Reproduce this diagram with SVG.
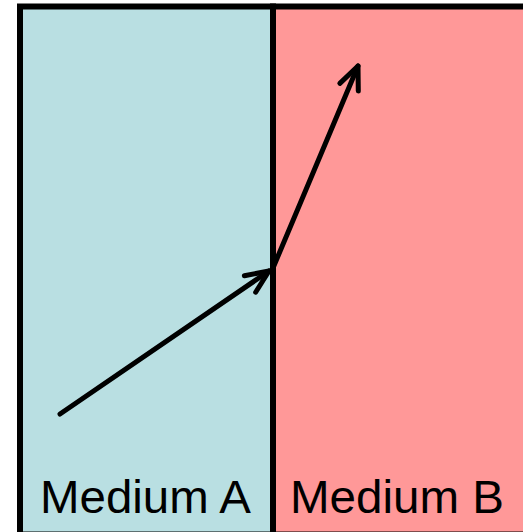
<svg xmlns="http://www.w3.org/2000/svg" width="523" height="532" viewBox="0 0 523 532">
<style>
.med{stroke:#000;stroke-width:6}
.lbl{font-family:"Liberation Sans",Arial,sans-serif;font-size:46px;fill:#000}
.ray{stroke:#000;stroke-width:5;fill:none;stroke-linecap:round}
</style>
<defs>
<marker id="ah" markerUnits="userSpaceOnUse" viewBox="-30 -15 36 30" refX="0" refY="0" markerWidth="36" markerHeight="30" orient="auto" overflow="visible">
<path d="M -23 -10 L 0 0 L -23 10" fill="none" stroke="#000" stroke-width="5" stroke-linecap="round" stroke-linejoin="round"/>
</marker>
</defs>
<rect width="523" height="532" fill="#fff"/>
<g id="mediumA">
<rect class="med" x="20" y="6.5" width="253" height="528" fill="#B9DFE2"/>
<text class="lbl" x="40" y="512.5" textLength="211" lengthAdjust="spacingAndGlyphs">Medium A</text>
</g>
<g id="mediumB">
<rect class="med" x="273" y="6.5" width="260" height="528" fill="#FF9898"/>
<text class="lbl" x="290" y="512.5" textLength="214" lengthAdjust="spacingAndGlyphs">Medium B</text>
</g>
<g id="connectors">
<line class="ray" x1="60" y1="414" x2="269" y2="271" marker-end="url(#ah)"/>
<line class="ray" x1="273" y1="268" x2="358" y2="66" marker-end="url(#ah)"/>
</g>
</svg>
